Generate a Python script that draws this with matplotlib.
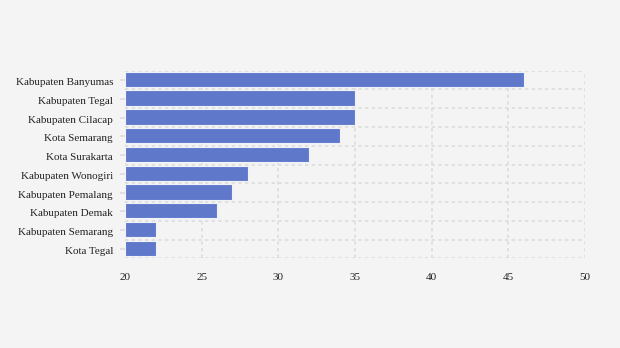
import numpy as np
import matplotlib
matplotlib.use("Agg")
from matplotlib import pyplot as plt
from matplotlib.transforms import ScaledTranslation

# Data
categories = [
    "Kabupaten Banyumas", "Kabupaten Tegal", "Kabupaten Cilacap", "Kota Semarang",
    "Kota Surakarta", "Kabupaten Wonogiri", "Kabupaten Pemalang", "Kabupaten Demak",
    "Kabupaten Semarang", "Kota Tegal",
]
values = [46, 35, 35, 34, 32, 28, 27, 26, 22, 22]
x_ticks = [20, 25, 30, 35, 40, 45, 50]

BG = "#f4f4f4"
BAR = "#5f78c9"
GRID = "#dddddd"

plt.rcParams["font.family"] = ["Liberation Serif", "DejaVu Serif"]

fig = plt.figure(figsize=(6.2, 3.48), dpi=100, facecolor=BG)
ax = fig.add_axes([125 / 620, 1 - 258.3 / 348, 460 / 620, 187.6 / 348])
ax.set_facecolor(BG)

n = len(categories)
y = np.arange(n)
base = x_ticks[0]
ax.barh(y - 0.035, [v - base for v in values], left=base, height=0.82,
        color=BAR, edgecolor="#f0f2fa", linewidth=0.8, zorder=3)

ax.set_xlim(x_ticks[0], x_ticks[-1])
ax.set_ylim(n - 0.5, -0.5)
ax.set_xticks(x_ticks)
ax.set_yticks(y)
ax.set_yticklabels(categories)

# grid: vertical at ticks, horizontal at band boundaries
for xv in x_ticks:
    ax.axvline(xv, color=GRID, linestyle=(0, (2, 2)), linewidth=1.2, zorder=1)
for b in np.arange(n + 1) - 0.5:
    ax.axhline(b, color=GRID, linestyle=(0, (2, 2)), linewidth=1.2, zorder=1)

for s in ax.spines.values():
    s.set_visible(False)
ax.tick_params(axis="y", length=3.6, width=1.2, color=GRID, pad=5, labelsize=8, labelcolor="#222222")
ax.tick_params(axis="x", length=0, pad=10.5, labelsize=8, labelcolor="#222222")

# labels sit a touch below the tick marks in the reference
shift = ScaledTranslation(0, -1.5 / 100, fig.dpi_scale_trans)
for lbl in ax.get_yticklabels():
    lbl.set_transform(lbl.get_transform() + shift)

fig.savefig("out.png", dpi=100, facecolor=BG)
